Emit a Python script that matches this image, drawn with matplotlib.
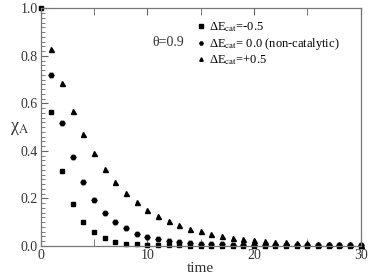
import matplotlib
matplotlib.use("Agg")
import matplotlib.pyplot as plt
from matplotlib.ticker import MultipleLocator

plt.rcParams['font.family'] = ['Liberation Serif', 'DejaVu Serif']
plt.rcParams['mathtext.fontset'] = 'stix'

nan = float('nan')
# время и доли chi_A для трёх серий
time = list(range(0, 31))
chi_neg = [1.0, 0.564, 0.317, 0.178, 0.100, 0.057, 0.032, 0.018, 0.010, 0.006,
           0.004, 0.003, 0.002, 0.002, 0.001, 0.001, 0.001, 0.001, 0.001, 0.001,
           0.001, 0.001, 0.001, 0.001, 0.001, 0.001, 0.001, 0.001, 0.001, 0.001, 0.001]
chi_zero = [nan, 0.718, 0.519, 0.373, 0.268, 0.194, 0.140, 0.102, 0.074, 0.052,
            0.038, 0.028, 0.022, 0.016, 0.012, 0.009, 0.007, 0.006, 0.005, 0.004,
            0.004, 0.003, 0.003, 0.003, 0.002, 0.002, 0.002, 0.002, 0.002, 0.002, 0.002]
chi_pos = [nan, 0.827, 0.687, 0.568, 0.470, 0.390, 0.324, 0.269, 0.224, 0.185,
           0.153, 0.126, 0.106, 0.087, 0.073, 0.063, 0.052, 0.042, 0.034, 0.029,
           0.025, 0.022, 0.018, 0.015, 0.013, 0.011, 0.009, 0.008, 0.007, 0.006, 0.005]
labels = [r'ΔE$_{\rm cat}$=-0.5',
          r'ΔE$_{\rm cat}$= 0.0 (non-catalytic)',
          r'ΔE$_{\rm cat}$=+0.5']

fig = plt.figure(figsize=(3.7, 2.76), dpi=100)
ax = fig.add_axes([0.11, 0.109, 0.865, 0.861])

ax.plot(time, chi_neg, 's', color='black', ms=3.2, clip_on=False, label=labels[0])
ax.plot(time, chi_zero, 'H', color='black', ms=3.6, clip_on=False, label=labels[1])
ax.plot(time, chi_pos, '^', color='black', ms=3.6, clip_on=False, label=labels[2])

ax.set_xlim(0, 30)
ax.set_ylim(0, 1.0)
ax.xaxis.set_major_locator(MultipleLocator(10))
ax.xaxis.set_minor_locator(MultipleLocator(5))
ax.yaxis.set_major_locator(MultipleLocator(0.2))
ax.yaxis.set_minor_locator(MultipleLocator(0.02))
ax.tick_params(which='both', direction='in', top=True, right=False, colors='#666666',
               labelcolor='#333333', labelsize=10, pad=2)
ax.tick_params(which='major', length=5)
ax.tick_params(which='minor', length=3, width=0.6)
ax.tick_params(axis='x', which='minor', length=5)
for s in ax.spines.values():
    s.set_color('#777777')
    s.set_linewidth(0.9)

ax.set_xlabel('time', fontsize=11, color='#333333', labelpad=0)
ax.set_ylabel(r'χ$_{\rm A}$', fontsize=13, rotation=0, color='#333333')
ax.yaxis.set_label_coords(-0.065, 0.46)

ax.text(10.5, 0.84, 'θ=0.9', fontsize=10, color='#333333')

ax.legend(loc='upper left', bbox_to_anchor=(0.455, 0.985), frameon=False, fontsize=9,
          handletextpad=0.1, handlelength=1.0, labelspacing=0.12, borderpad=0.2,
          markerscale=0.7)

fig.savefig('out.png', dpi=100)
